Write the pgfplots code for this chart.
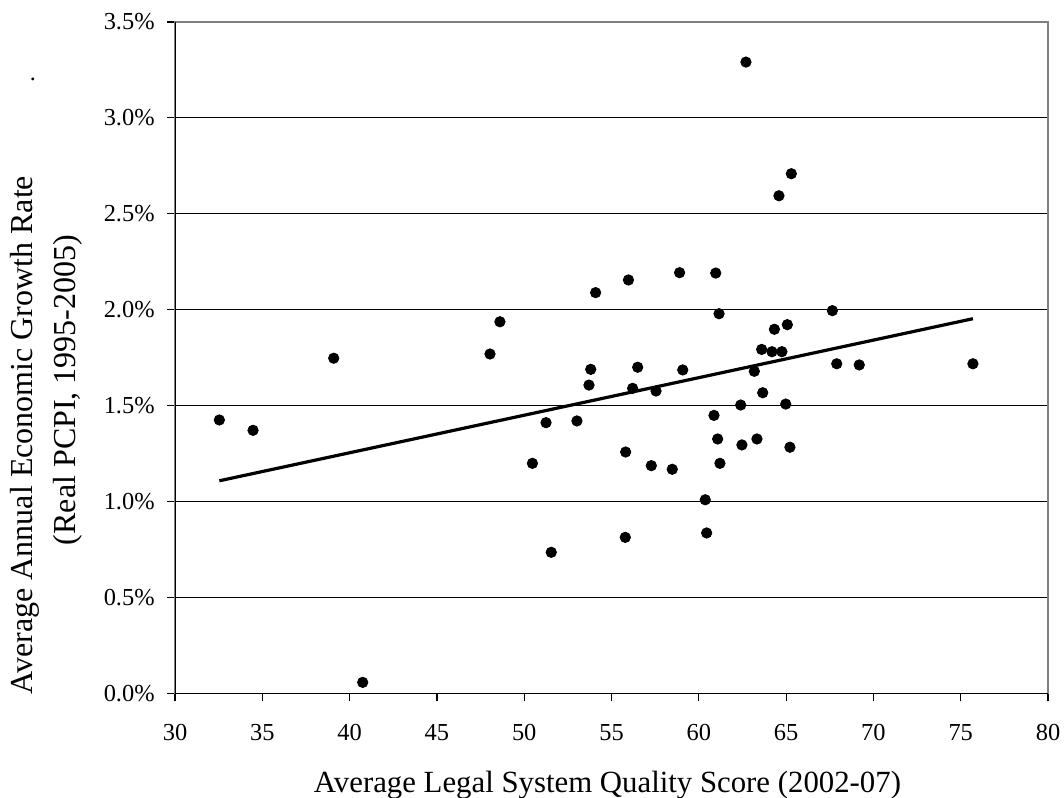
\documentclass[border=0pt]{standalone}
\usepackage{pgfplots}
\pgfplotsset{compat=1.18}
\usepackage{fontspec}
\setmainfont{Liberation Serif}
\begin{document}
\begin{tikzpicture}
\useasboundingbox (-87.5bp,-52.35bp) rectangle (444.5bp,346.65bp);
\begin{axis}[
  at={(0,0)}, anchor=south west,
  scale only axis,
  width=436.5bp, height=335.65bp,
  xmin=30, xmax=80, ymin=0, ymax=3.5,
  xtick={30,35,...,80},
  ytick={0,0.5,...,3.5},
  /pgf/number format/assume math mode=true,
  xticklabel={\pgfmathprintnumber{\tick}},
  yticklabel={\pgfmathprintnumber[fixed,fixed zerofill,precision=1]{\tick}\%},
  tick label style={font=\fontsize{12.2bp}{14bp}\selectfont, inner sep=0pt},
  x tick label style={anchor=base, yshift=-19.5bp},
  y tick label style={anchor=east, xshift=-6bp},
  tick pos=left,
  tick align=outside,
  major tick length=4bp,
  tick style={black, line width=0.6bp},
  ymajorgrids,
  grid style={black, line width=0.5bp},
  axis line style={draw=gray, line width=0.8bp},
]
\addplot[only marks, mark=*, mark size=2.6bp, black, mark options={fill=black}] coordinates {
(32.54,1.425) (34.47,1.371) (39.09,1.747) (40.75,0.057)
(48.04,1.769) (48.61,1.937) (50.47,1.199) (51.25,1.411)
(51.55,0.735) (53.02,1.420) (53.71,1.607) (53.81,1.689)
(54.09,2.089) (55.81,1.258) (55.79,0.813) (55.97,2.155)
(56.21,1.590) (56.50,1.700) (57.28,1.187) (57.55,1.576)
(58.48,1.168) (58.90,2.193) (59.08,1.686) (60.37,1.009)
(60.45,0.836) (60.87,1.449) (60.97,2.191) (61.08,1.326)
(61.16,1.979) (61.21,1.199) (62.40,1.503) (62.47,1.295)
(62.70,3.291) (64.59,2.594) (65.30,2.709) (63.18,1.679)
(63.60,1.793) (64.19,1.781) (64.76,1.781) (64.33,1.898)
(65.07,1.922) (63.66,1.567) (64.98,1.508) (63.33,1.326)
(65.22,1.283) (67.65,1.995) (67.90,1.718) (69.19,1.712)
(75.70,1.718)
};
\addplot[black, line width=1.6bp, no marks] coordinates {(32.54,1.108) (75.70,1.953)};
\draw[black, line width=0.7bp] (rel axis cs:0,1) -- (rel axis cs:0,0) -- (rel axis cs:1,0);
\end{axis}
\node[anchor=base, font=\fontsize{15.4bp}{18bp}\selectfont, inner sep=0pt] at (216.25bp,-49.35bp) {Average Legal System Quality Score (2002-07)};
\node[anchor=base, rotate=90, font=\fontsize{16bp}{18bp}\selectfont, inner sep=0pt] at (-71bp,129.15bp) {Average Annual Economic Growth Rate};
\node[anchor=base, rotate=90, font=\fontsize{16bp}{18bp}\selectfont, inner sep=0pt] at (-49.5bp,151.65bp) {(Real PCPI, 1995-2005)};
\node[anchor=center, font=\fontsize{12bp}{14bp}\selectfont, inner sep=0pt] at (-71bp,307.15bp) {.};
\end{tikzpicture}
\end{document}
